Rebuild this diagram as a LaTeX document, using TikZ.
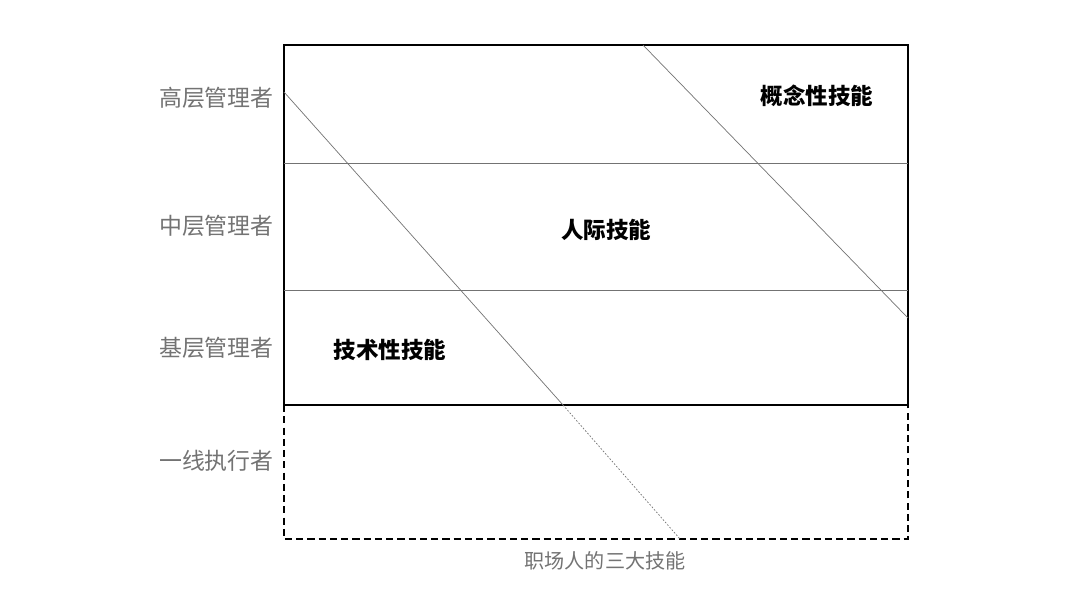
\documentclass[tikz,border=0pt]{standalone}
\usepackage{fontspec}
\setmainfont{Noto Sans CJK SC}
\tikzset{
  level/.style={text=black!55, font=\fontsize{16.3}{19}\selectfont, anchor=east, inner sep=0pt},
  skill/.style={font=\fontsize{16}{19}\selectfont\bfseries},
  frame/.style={line width=1.1pt},
  divider/.style={black!55, line width=0.5pt},
}
\begin{document}
\begin{tikzpicture}[x=0.025cm,y=-0.025cm]
  \useasboundingbox (0,0) rectangle (1080,608);
  % outer box and the dashed part below
  \coordinate (tl) at (284,45);
  \coordinate (tr) at (908,45);
  \coordinate (bl) at (284,405);
  \coordinate (br) at (908,405);
  \coordinate (dl) at (284,539);
  \coordinate (dr) at (908,539);
  \draw[frame] (tl) rectangle (br);
  \draw[frame,dashed,dash pattern=on 5pt off 3pt] (bl) -- (dl) -- (dr) -- (br);
  % level dividers
  \coordinate (m1l) at (284,163);
  \coordinate (m1r) at (908,163);
  \coordinate (m2l) at (284,290);
  \coordinate (m2r) at (908,290);
  \draw[divider] (m1l) -- (m1r);
  \draw[divider] (m2l) -- (m2r);
  % diagonals
  \coordinate (a1) at (284,92);
  \coordinate (a2) at (563,405);
  \coordinate (a3) at (680,539);
  \coordinate (b1) at (643,45);
  \coordinate (b2) at (908,318);
  \draw[divider] (a1) -- (a2);
  \draw[divider,dash pattern=on 1.2pt off 1.2pt] (a2) -- (a3);
  \draw[divider] (b1) -- (b2);
  % levels
  \node[level] (top)  at (274,98)  {高层管理者};
  \node[level] (mid)  at (274,226) {中层管理者};
  \node[level] (base) at (274,348) {基层管理者};
  \node[level] (line) at (274,461) {一线执行者};
  % skills
  \node[skill] (concept) at (817,96)  {概念性技能};
  \node[skill] (human)   at (606,230) {人际技能};
  \node[skill] (tech)    at (390,350) {技术性技能};
  \node[text=black!55,font=\fontsize{14.3}{17}\selectfont] (title) at (605,561) {职场人的三大技能};
\end{tikzpicture}
\end{document}
